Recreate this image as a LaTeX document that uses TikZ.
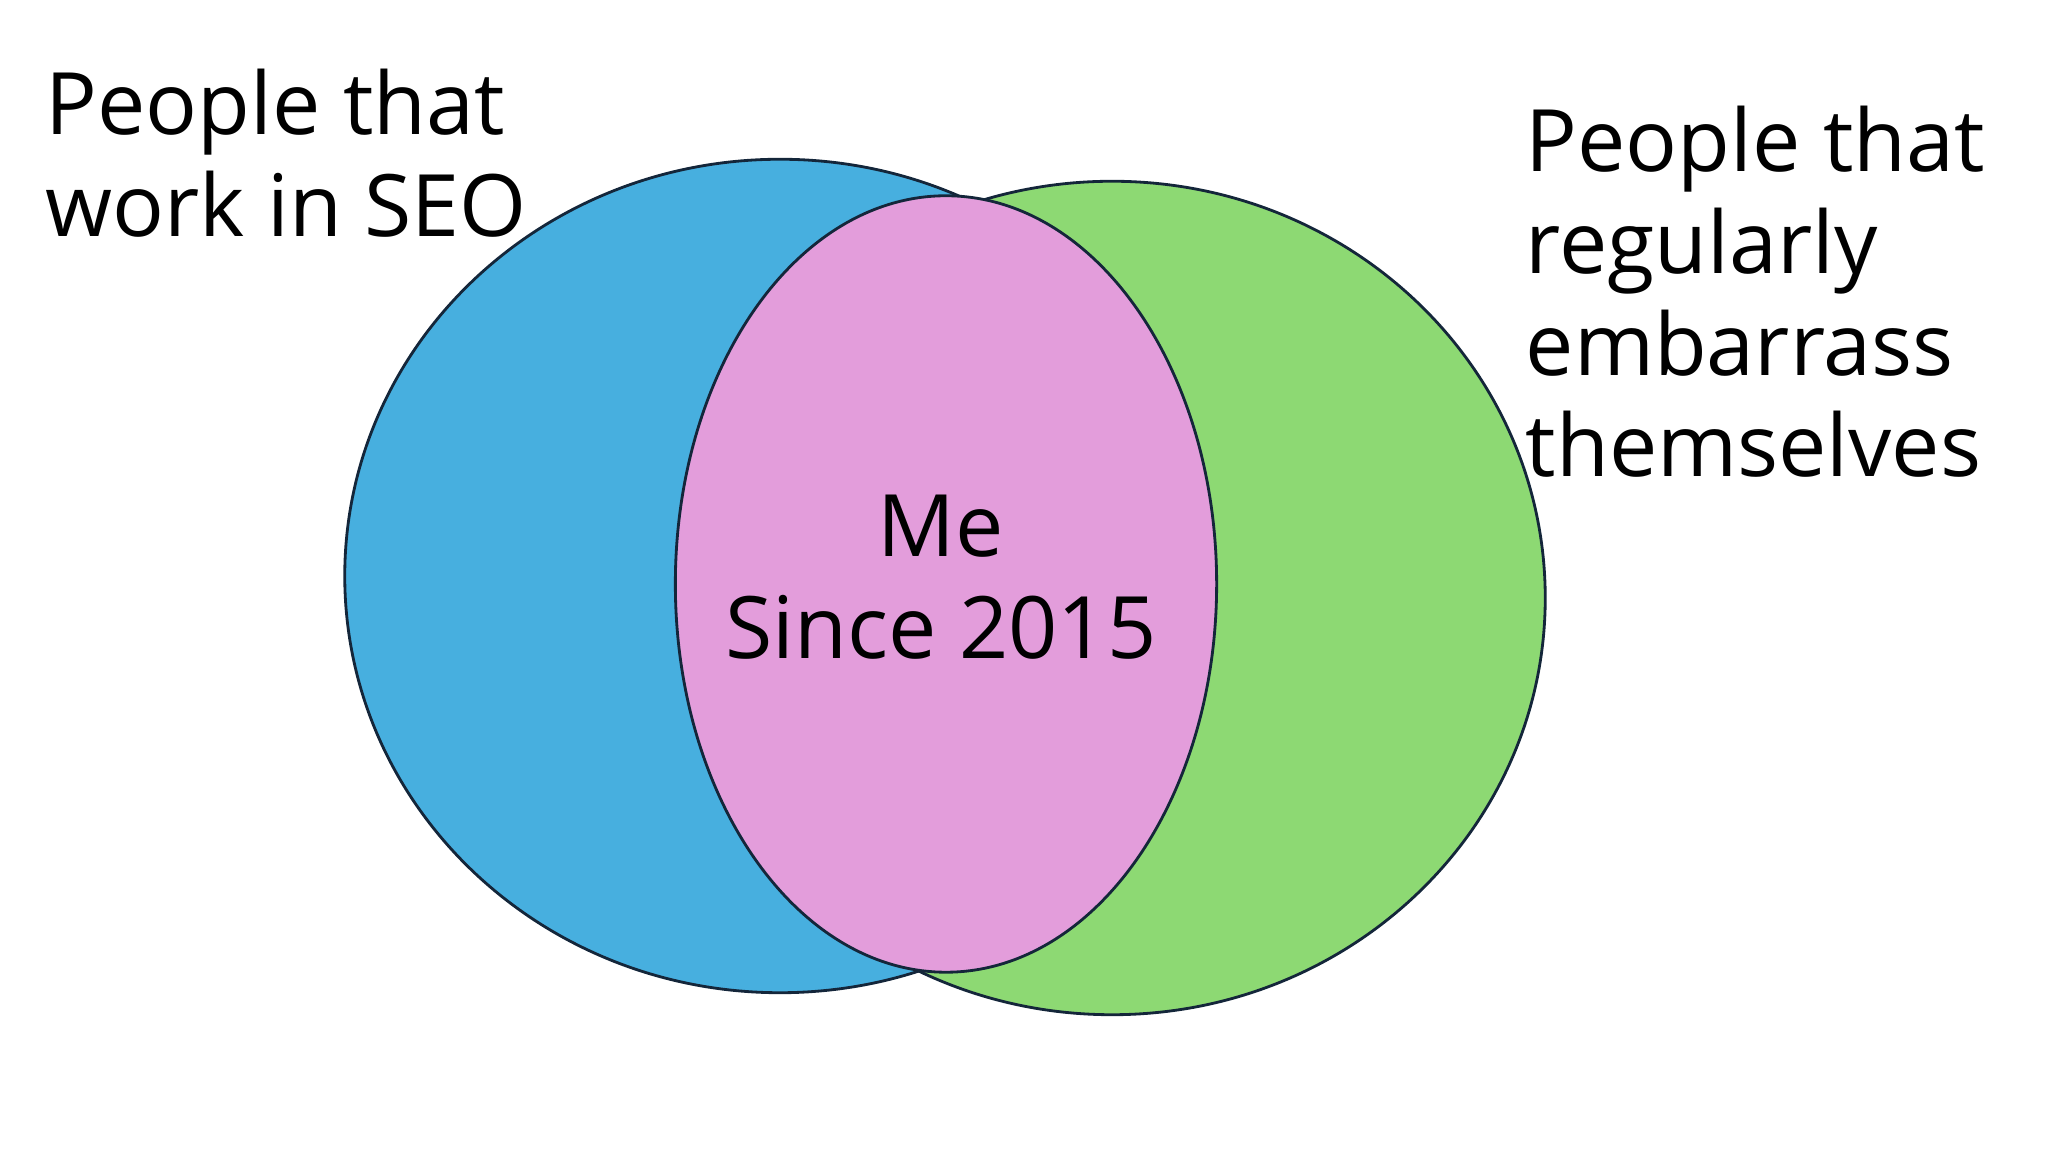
\documentclass[tikz,border=0pt]{standalone}
\usepackage{fontspec}
\setmainfont{Open Sans}
\usepackage{tikz}
\usetikzlibrary{positioning,shapes.geometric}

\definecolor{seoblue}{HTML}{47AFDF}
\definecolor{embgreen}{HTML}{8DD973}
\definecolor{mepink}{HTML}{E39DDB}
\definecolor{rim}{HTML}{14263A}

\begin{document}
\begin{tikzpicture}[
    x=0.01cm, y=0.01cm,
    set/.style={ellipse, draw=rim, line width=0.8pt, inner sep=0pt},
    lbl/.style={font=\fontsize{24.5}{29}\selectfont, inner sep=0pt},
]
\useasboundingbox (0,0) rectangle (2048,1152);
% --- the three sets ---
\node[set, fill=seoblue, minimum width=8.70cm, minimum height=8.33cm] (seo) at (780,576) {};
\node[set, fill=embgreen, minimum width=8.66cm, minimum height=8.33cm] (emb) at (1112,554) {};
\node[set, fill=mepink, minimum width=5.41cm, minimum height=7.76cm] (me) at (946,568) {};
% --- labels (anchored on the last line) ---
\node[lbl, align=left, anchor=base west] (seolbl) at (45,915) {People that\\work in SEO};
\node[lbl, align=left, anchor=base west] (emblbl) at (1525,675)
  {People that\\regularly\\embarrass\\themselves};
\node[lbl, align=center] (melbl) at (941,575) {Me\\Since 2015};
\end{tikzpicture}
\end{document}
